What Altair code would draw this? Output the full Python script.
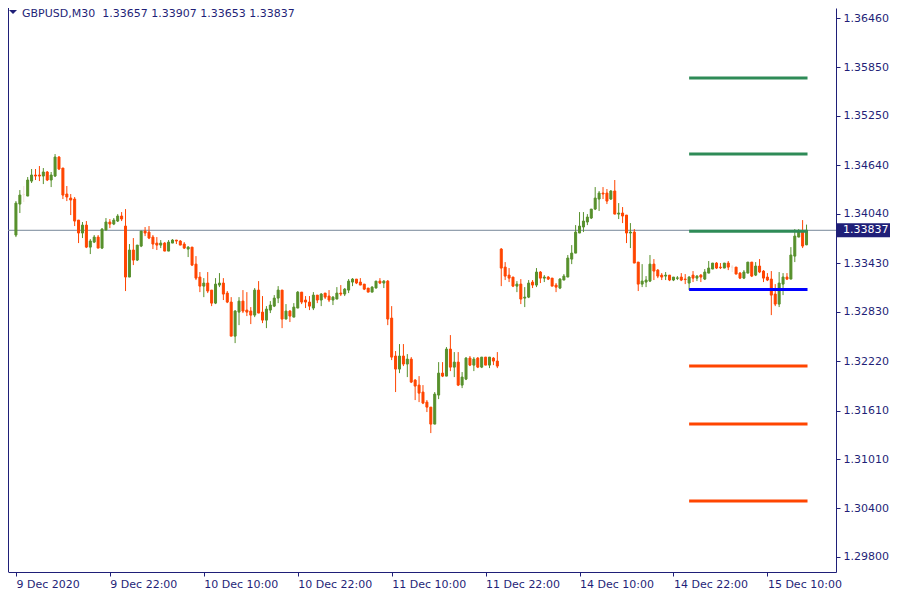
import altair as alt
import pandas as pd

# ---------------- data (GBPUSD, M30) ----------------
open_ = [
1.33778,1.34161,1.34278,1.34260,1.34445,1.34520,1.34520,1.34507,1.34557,1.34458,
1.34507,1.34742,1.34606,1.34285,1.34235,1.34223,1.33963,1.33803,1.33901,1.33629,
1.33691,1.33753,1.33617,1.33840,1.33939,1.33914,1.33951,1.34013,1.33889,1.33259,
1.33593,1.33469,1.33642,1.33827,1.33815,1.33753,1.33679,1.33654,1.33679,1.33580,
1.33679,1.33716,1.33704,1.33667,1.33605,1.33629,1.33419,1.33259,1.33147,1.33185,
1.33098,1.32937,1.33160,1.33185,1.33061,1.32950,1.32529,1.32826,1.32962,1.32851,
1.32839,1.32789,1.33098,1.32826,1.32727,1.32851,1.32900,1.32999,1.33098,1.32740,
1.32839,1.32764,1.32876,1.33073,1.32975,1.32950,1.32876,1.33036,1.32975,1.33061,
1.33024,1.32975,1.32987,1.33061,1.33049,1.33098,1.33197,1.33234,1.33197,1.33172,
1.33123,1.33073,1.33123,1.33209,1.33185,1.33209,1.32752,1.32283,1.32122,1.32283,
1.32184,1.32245,1.31986,1.31924,1.31838,1.31714,1.31652,1.31442,1.31801,1.32072,
1.32035,1.32369,1.32146,1.32208,1.31924,1.31998,1.32258,1.32171,1.32258,1.32146,
1.32270,1.32171,1.32258,1.32221,1.33605,1.33382,1.33283,1.33259,1.33147,1.33172,
1.32999,1.33011,1.33197,1.33160,1.33321,1.33246,1.33259,1.33246,1.33160,1.33123,
1.33222,1.33259,1.33481,1.33555,1.33803,1.33877,1.33939,1.33988,1.34099,1.34223,
1.34297,1.34297,1.34223,1.34322,1.34037,1.34050,1.34025,1.33803,1.33815,1.33444,
1.33172,1.33197,1.33209,1.33419,1.33345,1.33283,1.33271,1.33283,1.33222,1.33243,
1.33259,1.33234,1.33185,1.33283,1.33246,1.33283,1.33234,1.33308,1.33358,1.33432,
1.33382,1.33370,1.33432,1.33382,1.33382,1.33308,1.33246,1.33308,1.33444,1.33283,
1.33395,1.33333,1.33259,1.33234,1.33049,1.32925,1.33172,1.33259,1.33234,1.33518,
1.33753,1.33815,1.33657]

high = [
1.34198,1.34334,1.34384,1.34495,1.34594,1.34594,1.34631,1.34606,1.34569,1.34557,
1.34779,1.34754,1.34606,1.34384,1.34285,1.34248,1.33963,1.33939,1.33951,1.33728,
1.33778,1.33778,1.33864,1.33988,1.33976,1.33988,1.34037,1.34062,1.34099,1.33667,
1.33741,1.33654,1.33827,1.33877,1.33889,1.33778,1.33753,1.33716,1.33691,1.33716,
1.33728,1.33716,1.33716,1.33691,1.33642,1.33629,1.33518,1.33321,1.33246,1.33321,
1.33098,1.33246,1.33308,1.33246,1.33086,1.33011,1.32851,1.33011,1.33098,1.33073,
1.32888,1.33123,1.33209,1.33024,1.32900,1.32962,1.33036,1.33147,1.33098,1.32925,
1.32851,1.32937,1.33086,1.33073,1.33024,1.33024,1.33073,1.33036,1.33061,1.33061,
1.33098,1.33024,1.33135,1.33160,1.33123,1.33234,1.33246,1.33234,1.33246,1.33172,
1.33123,1.33147,1.33209,1.33246,1.33222,1.33222,1.32900,1.32345,1.32431,1.32431,
1.32307,1.32270,1.31998,1.32035,1.31924,1.31739,1.31652,1.31838,1.32208,1.32208,
1.32394,1.32542,1.32332,1.32332,1.32085,1.32270,1.32283,1.32270,1.32270,1.32270,
1.32270,1.32270,1.32270,1.32332,1.33617,1.33444,1.33370,1.33259,1.33209,1.33234,
1.33135,1.33222,1.33222,1.33370,1.33333,1.33283,1.33271,1.33246,1.33185,1.33246,
1.33296,1.33531,1.33654,1.33901,1.34062,1.34062,1.34037,1.34099,1.34371,1.34322,
1.34371,1.34347,1.34334,1.34458,1.34173,1.34124,1.34025,1.33926,1.33852,1.33444,
1.33419,1.33271,1.33531,1.33481,1.33358,1.33308,1.33321,1.33283,1.33259,1.33271,
1.33308,1.33296,1.33271,1.33333,1.33283,1.33296,1.33358,1.33457,1.33432,1.33444,
1.33432,1.33432,1.33457,1.33407,1.33382,1.33321,1.33345,1.33444,1.33444,1.33444,
1.33481,1.33345,1.33308,1.33333,1.33172,1.33321,1.33308,1.33308,1.33629,1.33852,
1.33852,1.33963,1.33907]

low = [
1.33753,1.34050,1.34186,1.34260,1.34421,1.34458,1.34445,1.34408,1.34445,1.34371,
1.34495,1.34581,1.34223,1.34198,1.34025,1.33889,1.33679,1.33741,1.33617,1.33543,
1.33679,1.33617,1.33605,1.33840,1.33864,1.33901,1.33939,1.33951,1.33086,1.33259,
1.33407,1.33457,1.33629,1.33765,1.33728,1.33605,1.33593,1.33617,1.33580,1.33580,
1.33679,1.33667,1.33654,1.33605,1.33506,1.33395,1.33222,1.33073,1.33011,1.33061,
1.32900,1.32925,1.33135,1.32975,1.32937,1.32529,1.32443,1.32665,1.32814,1.32777,
1.32678,1.32764,1.32814,1.32690,1.32628,1.32814,1.32888,1.32937,1.32628,1.32740,
1.32703,1.32764,1.32876,1.32925,1.32876,1.32851,1.32851,1.32937,1.32900,1.32987,
1.32950,1.32913,1.32987,1.33024,1.33024,1.33061,1.33147,1.33172,1.33160,1.33098,
1.33073,1.33073,1.33123,1.33172,1.33123,1.32665,1.32233,1.31838,1.32072,1.32159,
1.32023,1.31949,1.31739,1.31714,1.31689,1.31591,1.31331,1.31442,1.31751,1.32023,
1.32035,1.32097,1.32023,1.31912,1.31887,1.31986,1.32159,1.32097,1.32134,1.32134,
1.32171,1.32134,1.32171,1.32134,1.33147,1.33222,1.33197,1.33135,1.33073,1.32925,
1.32888,1.32999,1.33123,1.33135,1.33185,1.33197,1.33222,1.33147,1.33073,1.33110,
1.33222,1.33259,1.33419,1.33555,1.33803,1.33815,1.33901,1.33976,1.34087,1.34075,
1.34223,1.34161,1.34211,1.34037,1.33976,1.33926,1.33679,1.33617,1.33432,1.33086,
1.33135,1.33135,1.33197,1.33222,1.33246,1.33222,1.33222,1.33209,1.33209,1.33222,
1.33209,1.33172,1.33098,1.33197,1.33209,1.33197,1.33222,1.33308,1.33358,1.33358,
1.33358,1.33370,1.33345,1.33321,1.33296,1.33234,1.33234,1.33308,1.33259,1.33271,
1.33308,1.33197,1.33209,1.32789,1.32900,1.32888,1.33036,1.33222,1.33234,1.33444,
1.33753,1.33617,1.33653]

close = [
1.34173,1.34272,1.34278,1.34458,1.34520,1.34507,1.34507,1.34557,1.34458,1.34520,
1.34742,1.34594,1.34272,1.34248,1.34211,1.33951,1.33803,1.33901,1.33629,1.33704,
1.33753,1.33617,1.33852,1.33939,1.33914,1.33963,1.34013,1.33976,1.33259,1.33593,
1.33469,1.33654,1.33827,1.33803,1.33741,1.33667,1.33654,1.33679,1.33580,1.33691,
1.33716,1.33704,1.33654,1.33617,1.33629,1.33407,1.33246,1.33147,1.33185,1.33086,
1.32937,1.33172,1.33185,1.33049,1.32950,1.32529,1.32839,1.32962,1.32839,1.32826,
1.32789,1.33098,1.32814,1.32727,1.32863,1.32913,1.32999,1.33098,1.32740,1.32839,
1.32777,1.32888,1.33073,1.32950,1.32950,1.32900,1.33036,1.32975,1.33049,1.33011,
1.32975,1.33011,1.33061,1.33049,1.33110,1.33209,1.33234,1.33185,1.33160,1.33110,
1.33073,1.33135,1.33209,1.33185,1.33209,1.32740,1.32270,1.32122,1.32283,1.32184,
1.32245,1.31961,1.31912,1.31825,1.31702,1.31652,1.31442,1.31813,1.32072,1.32035,
1.32369,1.32146,1.32208,1.31924,1.32023,1.32258,1.32171,1.32245,1.32146,1.32270,
1.32171,1.32270,1.32221,1.32159,1.33370,1.33271,1.33246,1.33147,1.33172,1.32987,
1.33011,1.33185,1.33160,1.33321,1.33246,1.33259,1.33234,1.33147,1.33135,1.33234,
1.33271,1.33494,1.33555,1.33815,1.33889,1.33951,1.34000,1.34099,1.34235,1.34297,
1.34285,1.34198,1.34322,1.34037,1.34050,1.34013,1.33803,1.33815,1.33432,1.33172,
1.33209,1.33222,1.33419,1.33333,1.33271,1.33259,1.33283,1.33222,1.33259,1.33249,
1.33222,1.33228,1.33259,1.33246,1.33271,1.33259,1.33321,1.33370,1.33432,1.33370,
1.33374,1.33432,1.33382,1.33382,1.33296,1.33246,1.33321,1.33444,1.33271,1.33395,
1.33321,1.33246,1.33222,1.33036,1.32925,1.33185,1.33259,1.33234,1.33531,1.33765,
1.33815,1.33642,1.33837]

price_ticks = [1.36460, 1.35850, 1.35250, 1.34640, 1.34040, 1.33430,
               1.32830, 1.32220, 1.31610, 1.31010, 1.30400, 1.29800]
time_tick_index = [0, 24, 48, 72, 96, 120, 144, 168, 192]
time_tick_labels = ["9 Dec 2020", "9 Dec 22:00", "10 Dec 10:00", "10 Dec 22:00",
                    "11 Dec 10:00", "11 Dec 22:00", "14 Dec 10:00", "14 Dec 22:00",
                    "15 Dec 10:00"]

level_names = ["R3", "R2", "R1", "P", "S1", "S2", "S3"]
level_prices = [1.35718, 1.34779, 1.33824, 1.33106, 1.32159, 1.31442, 1.30491]
level_colors = ["#2e8b57", "#2e8b57", "#2e8b57", "#0000ff", "#ff4500", "#ff4500", "#ff4500"]
level_start_bar = 172
level_end_bar = 202.25

symbol_title = "GBPUSD,M30"

# ---------------- styling ----------------
NAVY = "#1f1f78"
UP = "#57902c"
DOWN = "#ff4500"
FLAT = "#f2e0d8"
FONT = "DejaVu Sans"
W, H = 828, 564
BOX_W = 54

n = len(close)
df = pd.DataFrame({"bar": list(range(n)), "open": open_, "high": high,
                   "low": low, "close": close})
df["dir"] = ["up" if c > o else ("down" if c < o else "flat")
             for o, c in zip(open_, close)]

xscale = alt.Scale(domain=[-0.75, 208.25], nice=False, zero=False)
yscale = alt.Scale(domain=[1.296146, 1.365836], nice=False, zero=False)

lab_expr = "[" + ",".join("'" + s + "'" for s in time_tick_labels) + "][indexof([" + \
    ",".join(str(v) for v in time_tick_index) + "], datum.value)]"

xaxis = alt.Axis(values=time_tick_index, labelExpr=lab_expr, orient="bottom",
                 title=None, grid=False, labelAlign="left", labelBaseline="top",
                 labelPadding=2, tickSize=4, labelFlush=False, labelOverlap=False,
                 domainColor=NAVY, tickColor=NAVY, labelColor=NAVY,
                 labelFont=FONT, labelFontSize=11)
yaxis = alt.Axis(values=price_ticks, format=".5f", orient="right", title=None,
                 grid=False, tickSize=4, labelPadding=3, labelOverlap=False,
                 labelFlush=False, domainColor=NAVY, tickColor=NAVY,
                 labelColor=NAVY, labelFont=FONT, labelFontSize=11)

cscale = alt.Scale(domain=["up", "down", "flat"], range=[UP, DOWN, FLAT])

X = alt.X("bar:Q", scale=xscale, axis=xaxis)

frame = alt.Chart(pd.DataFrame({"k": [0]})).mark_rule(color=NAVY, strokeWidth=1).encode(
    x=alt.value(0.5), y=alt.value(0), y2=alt.value(H))

bid_df = pd.DataFrame({"bid": [close[-1]], "label": [f"{close[-1]:.5f}"]})

bid_line = alt.Chart(bid_df).mark_rule(color="#778899", strokeWidth=1).encode(
    y=alt.Y("bid:Q", scale=yscale, axis=yaxis))

wicks = alt.Chart(df).mark_rule(strokeWidth=1).encode(
    x=X,
    y=alt.Y("low:Q", scale=yscale, axis=yaxis),
    y2="high:Q",
    color=alt.Color("dir:N", scale=cscale, legend=None))

bodies = alt.Chart(df).mark_bar(size=2, strokeWidth=1).encode(
    x=X,
    y=alt.Y("open:Q", scale=yscale, axis=yaxis),
    y2="close:Q",
    color=alt.Color("dir:N", scale=cscale, legend=None),
    stroke=alt.Stroke("dir:N", scale=cscale, legend=None))

lev_df = pd.DataFrame({"name": level_names, "price": level_prices, "col": level_colors,
                       "start": [level_start_bar] * 7, "end": [level_end_bar] * 7})
levels = alt.Chart(lev_df).mark_rule(strokeWidth=3).encode(
    x=alt.X("start:Q", scale=xscale, axis=xaxis),
    x2="end:Q",
    y=alt.Y("price:Q", scale=yscale, axis=yaxis),
    color=alt.Color("col:N", scale=None))

box_path = "M-1,-0.26L1,-0.26L1,0.26L-1,0.26Z"
price_box = alt.Chart(bid_df).mark_point(shape=box_path, filled=True, size=BOX_W * BOX_W,
                                         color=NAVY, opacity=1, strokeWidth=0).encode(
    x=alt.value(W + BOX_W / 2), y=alt.Y("bid:Q", scale=yscale, axis=yaxis))
price_txt = alt.Chart(bid_df).mark_text(align="left", baseline="middle", color="white",
                                        font=FONT, fontSize=11).encode(
    x=alt.value(W + 7), y=alt.Y("bid:Q", scale=yscale, axis=yaxis), text="label:N")

title_str = symbol_title + "\u00a0\u00a0" + " ".join(
    f"{v:.5f}" for v in [open_[-1], high[-1], low[-1], close[-1]])
tri = alt.Chart(pd.DataFrame({"k": [0]})).mark_point(
    shape="M-1,-0.5L1,-0.5L0,0.5Z", filled=True, size=64, color=NAVY, opacity=1,
    strokeWidth=0).encode(x=alt.value(5), y=alt.value(4))
title = alt.Chart(pd.DataFrame({"t": [title_str]})).mark_text(
    align="left", baseline="alphabetic", color=NAVY, font=FONT, fontSize=11).encode(
    x=alt.value(14), y=alt.value(9), text="t:N")

chart = alt.layer(frame, bid_line, wicks, bodies, levels, price_box, price_txt,
                  tri, title).properties(
    width=W, height=H,
    autosize=alt.AutoSizeParams(type="none"),
    padding={"left": 0, "top": 0, "right": 56, "bottom": 20},
    background="white",
).configure_view(stroke=None)

chart.save("out.html", embed_options={"renderer": "svg", "actions": False})
